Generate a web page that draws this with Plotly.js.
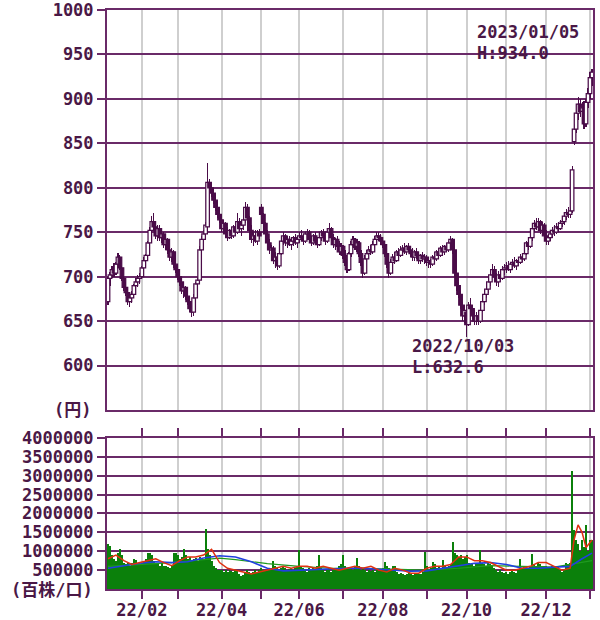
<!DOCTYPE html>
<html><head><meta charset="utf-8">
<script src="https://cdn.plot.ly/plotly-3.0.1.min.js"></script>
<style>html,body{margin:0;padding:0;background:#fff}#chart{width:600px;height:620px}</style>
</head><body><div id="chart"></div>
<script>
// ---- calendar (Tokyo trading days) ----
const firstDay = '2022-01-06';
const lastDay = '2023-01-05';
const holidays = ['2022-01-10','2022-02-11','2022-02-23','2022-03-21','2022-04-29','2022-05-03','2022-05-04','2022-05-05',
  '2022-07-18','2022-08-11','2022-09-19','2022-09-23','2022-10-10','2022-11-03','2022-11-23','2023-01-02','2023-01-03'];
const monthTickText = ['22/02','','22/04','','22/06','','22/08','','22/10','','22/12',''];
const priceTicks = [600,650,700,750,800,850,900,950,1000];
const volumeTicks = [500000,1000000,1500000,2000000,2500000,3000000,3500000,4000000];

// ---- daily prices (円) ----
const openP = [
 672,698,702,708,704,714,722,710,698,688,682,672,676,680,690,694,698,
 700,710,718,724,738,752,762,756,746,754,744,748,736,742,730,722,728,714,
 708,700,694,684,688,678,672,664,660,676,692,696,730,742,748,756,806,800,794,786,778,770,
 764,754,760,748,744,752,746,756,750,762,754,758,764,778,766,752,742,746,740,750,
 778,770,760,748,738,730,732,718,722,712,726,740,746,738,742,736,740,744,738,
 742,746,744,740,748,750,742,738,746,740,736,744,750,746,740,750,754,744,736,742,734,728,
 734,724,716,708,726,736,742,734,738,726,716,704,720,726,730,728,736,742,746,744,
 740,736,726,714,704,716,722,718,728,724,730,732,728,734,730,726,722,728,724,718,724,720,
 722,716,718,714,722,720,728,724,732,728,734,730,738,742,730,704,690,680,668,656,
 660,646,668,664,656,650,656,650,662,672,680,686,694,702,708,700,694,702,698,708,
 710,712,708,714,716,712,718,716,722,720,726,738,734,744,754,760,756,762,752,758,
 746,740,744,748,752,750,756,754,760,762,768,772,770,774,852,866,884,894,886,890,872,896,
 906,924];
const highP = [
 700,705,712,715,716,727,724,712,700,694,686,680,684,692,698,702,704,
 712,722,726,740,756,768,772,760,758,758,752,750,746,744,736,732,730,720,
 712,706,698,692,690,684,676,672,680,694,700,734,746,752,762,828,810,804,798,792,784,776,
 770,764,762,756,754,756,758,760,772,766,760,768,784,782,768,758,750,752,752,754,
 782,772,762,752,742,736,734,728,724,730,744,750,748,746,746,744,746,748,744,
 750,752,748,750,754,752,746,748,750,744,746,752,754,750,752,760,756,748,744,746,740,738,
 736,730,720,728,740,746,744,742,740,730,718,724,730,734,736,740,746,750,750,748,
 744,738,728,716,720,726,728,730,732,734,736,738,736,738,734,732,730,732,728,726,728,726,
 724,722,720,724,728,730,732,734,736,736,738,740,746,744,732,708,694,684,672,668,
 664,672,676,668,662,660,660,666,676,684,690,698,706,714,712,704,706,708,712,714,
 716,718,716,720,722,720,722,726,726,730,740,744,746,758,764,766,766,764,762,760,
 752,748,752,756,758,760,762,764,766,772,776,778,778,824,872,888,902,900,896,898,900,912,
 930,934];
const lowP = [
 668,690,698,700,702,710,708,695,684,678,668,666,670,678,684,688,692,
 698,706,712,720,734,748,752,742,740,740,738,732,730,726,718,716,710,704,
 696,690,680,676,674,668,660,655,656,674,686,694,726,738,746,754,794,790,782,774,766,760,
 750,748,744,740,742,742,744,746,748,750,746,752,760,762,748,738,734,738,736,742,
 766,756,744,734,726,720,714,710,708,710,724,736,734,732,734,730,734,736,732,
 738,740,736,738,742,738,734,736,738,732,734,740,742,736,738,746,740,732,730,730,724,724,
 720,712,704,706,722,732,730,728,722,712,698,702,716,720,724,726,732,738,740,736,
 732,722,710,698,702,712,714,716,720,722,726,726,724,728,722,718,718,720,714,714,716,714,
 712,710,710,712,716,718,720,722,726,724,728,728,734,726,700,684,676,664,650,648,
 632.6,644,660,652,646,646,646,648,660,668,676,682,690,698,696,690,688,694,696,702,
 704,706,704,708,710,708,712,714,716,718,724,730,732,740,750,752,752,748,748,742,
 736,736,740,744,746,748,750,752,756,758,764,766,766,772,848,862,876,880,872,866,868,890,
 900,914];
const closeP = [
 698,702,708,704,714,722,710,698,688,682,672,676,680,690,694,698,700,
 710,718,724,738,752,762,756,746,754,744,748,736,742,730,722,728,714,708,
 700,694,684,688,678,672,664,660,676,692,696,730,742,748,758,806,800,794,786,778,770,764,
 754,760,748,744,752,746,756,750,762,754,758,764,778,766,752,742,746,740,750,746,
 770,760,748,738,730,732,718,722,712,726,740,746,738,742,736,740,744,738,742,
 746,744,740,748,750,742,738,746,740,736,744,750,746,740,750,754,744,736,742,734,728,734,
 724,716,708,726,736,742,734,738,726,716,704,720,726,730,728,736,742,746,744,740,
 736,726,714,704,716,722,718,728,724,730,732,728,734,730,726,722,728,724,718,724,720,722,
 716,718,714,722,720,728,724,732,728,734,730,738,742,730,704,690,680,668,656,662,
 646,668,664,656,650,656,650,662,672,680,686,694,702,708,700,694,702,698,708,710,
 712,708,714,716,712,718,716,722,720,726,738,734,744,754,760,756,762,752,758,746,
 740,744,748,752,750,756,754,760,762,768,772,770,774,820,866,884,894,886,890,872,896,906,
 924,930];

// ---- daily volume (百株) ----
const volume = [
 1200000,1150000,900000,800000,750000,950000,1070000,900000,700000,650000,700000,600000,680000,800000,780000,700000,650000,
 700000,750000,800000,950000,950000,900000,750000,700000,650000,600000,680000,620000,600000,580000,550000,600000,950000,950000,
 900000,800000,850000,1070000,900000,800000,850000,780000,800000,820000,750000,850000,800000,800000,1600000,1050000,900000,750000,600000,550000,500000,500000,
 500000,450000,500000,450000,500000,480000,450000,500000,500000,400000,350000,380000,450000,500000,450000,420000,450000,500000,450000,500000,
 550000,500000,500000,480000,500000,550000,750000,600000,550000,500000,550000,600000,550000,500000,520000,550000,500000,550000,600000,
 1030000,600000,550000,500000,450000,550000,500000,550000,500000,600000,900000,550000,500000,450000,500000,550000,450000,500000,550000,500000,600000,670000,
 900000,600000,550000,580000,550000,500000,600000,820000,600000,500000,550000,500000,450000,500000,480000,500000,450000,500000,480000,500000,
 550000,710000,600000,550000,500000,600000,620000,450000,400000,420000,400000,380000,400000,420000,400000,380000,400000,420000,400000,400000,450000,980000,
 600000,500000,550000,710000,650000,550000,580000,500000,760000,600000,550000,600000,650000,1250000,950000,900000,850000,900000,800000,850000,
 900000,700000,650000,700000,600000,650000,700000,1040000,700000,650000,600000,700000,650000,600000,550000,500000,450000,500000,450000,420000,
 450000,400000,450000,480000,450000,420000,500000,800000,550000,580000,600000,550000,600000,940000,650000,600000,700000,650000,600000,620000,
 600000,550000,580000,600000,550000,600000,580000,500000,450000,500000,700000,650000,700000,3130000,1560000,1300000,1200000,1000000,1300000,1100000,1700000,1000000,
 1300000,1300000];

// ---- volume average lines (read at sampled trading-day positions) ----
const redAvgAt = [0,4,8,12,16,20,24,28,32,36,40,44,48,52,56,60,64,68,72,76,80,84,88,92,96,100,104,108,112,116,120,124,128,132,136,140,144,148,152,156,160,164,168,172,176,180,184,188,192,196,200,204,208,212,216,220,224,228,232,234,236,238,240,242,243];
const redAvg = [800000,900000,750000,650000,700000,750000,800000,700000,620000,750000,850000,850000,900000,1050000,700000,550000,500000,450000,400000,450000,500000,550000,600000,550000,600000,600000,550000,600000,550000,500000,550000,600000,550000,600000,500000,450000,550000,500000,420000,420000,550000,600000,600000,650000,850000,850000,750000,750000,700000,600000,500000,500000,550000,600000,700000,700000,600000,500000,550000,1300000,1700000,1500000,1100000,1250000,1300000];
const blueAvgAt = [0,8,16,24,32,40,48,56,64,72,80,88,96,104,112,120,128,136,144,152,160,168,176,184,192,200,208,216,224,232,238,243];
const blueAvg = [550000,620000,680000,720000,700000,720000,820000,880000,850000,720000,550000,480000,500000,530000,550000,550000,550000,520000,500000,470000,480000,550000,620000,680000,700000,650000,550000,550000,580000,600000,800000,950000];
const greenAvgAt = [0,16,32,48,56,64,72,80,96,112,128,144,160,176,192,208,224,243];
const greenAvg = [600000,650000,700000,780000,820000,780000,720000,670000,600000,550000,550000,520000,500000,550000,620000,600000,580000,750000];

// ---- build trading-day list ----
function tradingDays(){
  const out=[]; const d=new Date(firstDay+'T00:00:00Z'); const end=new Date(lastDay+'T00:00:00Z');
  while(d<=end){ const dow=d.getUTCDay(); const s=d.toISOString().slice(0,10);
    if(dow!==0 && dow!==6 && holidays.indexOf(s)<0) out.push(s);
    d.setUTCDate(d.getUTCDate()+1); }
  return out;
}
const dates = tradingDays();
const monthStarts = [];
for(let i=1;i<dates.length;i++){ if(dates[i].slice(0,7)!==dates[i-1].slice(0,7)) monthStarts.push(dates[i]); }

const PURPLE='#6a2a68', TXT='#4a1846', CANDLE='#4a0c48';
const tickFont={family:'DejaVu Sans Mono', size:17, color:TXT, weight:'bold'};
const annFont={family:'DejaVu Sans Mono', size:17, color:TXT, weight:'bold'};
const cjkFont={family:'DejaVu Sans Mono, Noto Sans CJK JP', size:17, color:TXT, weight:'bold'};

// candle parts (wick = low..high, body = open..close), drawn with the library's bar scale
const wickBase = lowP;
const wickLen = highP.map((h,i)=>h-lowP[i]);
const bodyBase = openP.map((o,i)=>Math.min(o,closeP[i]));
const bodyLen = openP.map((o,i)=>Math.max(Math.abs(closeP[i]-o),0.6));
const bodyFill = openP.map((o,i)=>closeP[i]>=o ? '#ffffff' : CANDLE);

const traces = [
  {type:'bar', x:dates, y:volume, xaxis:'x', yaxis:'y', marker:{color:'#0b800b', line:{width:0}}, hoverinfo:'skip'},
  {type:'scatter', mode:'lines', x:greenAvgAt.map(i=>dates[i]), y:greenAvg, xaxis:'x', yaxis:'y', line:{color:'#1f9a1f', width:1.2}, hoverinfo:'skip'},
  {type:'scatter', mode:'lines', x:blueAvgAt.map(i=>dates[i]), y:blueAvg, xaxis:'x', yaxis:'y', line:{color:'#2040e0', width:1.6}, hoverinfo:'skip'},
  {type:'scatter', mode:'lines', x:redAvgAt.map(i=>dates[i]), y:redAvg, xaxis:'x', yaxis:'y', line:{color:'#e03010', width:1.5}, hoverinfo:'skip'},
  {type:'bar', name:'wick', x:dates, base:wickBase, y:wickLen, width:0.55, xaxis:'x', yaxis:'y2', marker:{color:CANDLE, line:{width:0}}, hoverinfo:'skip'},
  {type:'bar', name:'body', x:dates, base:bodyBase, y:bodyLen, width:1.8, xaxis:'x', yaxis:'y2', marker:{color:bodyFill, line:{color:CANDLE, width:1.25}}, hoverinfo:'skip'}
];

const layout = {
  width:600, height:620, margin:{l:107, r:7, t:10, b:31},
  paper_bgcolor:'#fff', plot_bgcolor:'#fff', showlegend:false, hovermode:false,
  bargap:0, barmode:'overlay',
  xaxis:{type:'category', range:[-0.5, dates.length-0.5], anchor:'y', tickmode:'array', tickvals:monthStarts, ticktext:monthTickText,
    ticks:'outside', ticklen:8, tickwidth:2, tickcolor:PURPLE, tickfont:tickFont, ticklabelstandoff:-3, ticklabeloverflow:'allow',
    showgrid:true, gridcolor:'#cfcfcf', gridwidth:2, showline:true, linecolor:PURPLE, linewidth:2, mirror:'all', fixedrange:true},
  yaxis:{domain:[0, 0.2608], range:[0, 4000000], tickmode:'array',
    tickvals:volumeTicks, ticktext:volumeTicks.map(String),
    ticks:'outside', ticklen:8, tickwidth:2, tickcolor:PURPLE, tickfont:tickFont, ticklabeloverflow:'allow',
    showgrid:true, gridcolor:PURPLE, gridwidth:2, showline:true, linecolor:PURPLE, linewidth:2, mirror:true, zeroline:false, fixedrange:true},
  yaxis2:{domain:[0.3092, 1], range:[550, 1000], anchor:'x', tickmode:'array',
    tickvals:priceTicks, ticktext:priceTicks.map(String),
    ticks:'outside', ticklen:8, tickwidth:2, tickcolor:PURPLE, tickfont:tickFont, ticklabeloverflow:'allow',
    showgrid:true, gridcolor:PURPLE, gridwidth:2, showline:true, linecolor:PURPLE, linewidth:2, mirror:true, zeroline:false, fixedrange:true},
  annotations:[
    {xref:'paper', yref:'paper', x:0.757, y:0.962, xanchor:'left', yanchor:'middle', text:'2023/01/05', showarrow:false, font:annFont},
    {xref:'paper', yref:'paper', x:0.757, y:0.9265, xanchor:'left', yanchor:'middle', text:'H:934.0', showarrow:false, font:annFont},
    {xref:'paper', yref:'paper', x:0.6235, y:0.4197, xanchor:'left', yanchor:'middle', text:'2022/10/03', showarrow:false, font:annFont},
    {xref:'paper', yref:'paper', x:0.6235, y:0.3842, xanchor:'left', yanchor:'middle', text:'L:632.6', showarrow:false, font:annFont},
    {xref:'paper', yref:'paper', x:-0.029, y:0.3092, xanchor:'right', yanchor:'middle', text:'(円)', showarrow:false, font:cjkFont},
    {xref:'paper', yref:'paper', x:-0.025, y:-0.002, xanchor:'right', yanchor:'middle', text:'(百株/口)', showarrow:false, font:cjkFont}
  ]
};

Plotly.newPlot('chart', traces, layout, {displayModeBar:false, staticPlot:true});
</script>
</body></html>
